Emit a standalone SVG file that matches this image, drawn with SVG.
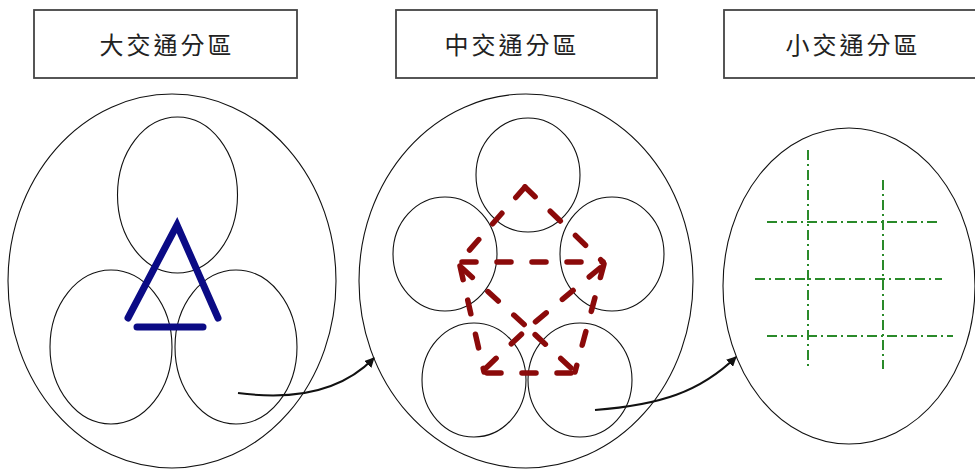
<svg xmlns="http://www.w3.org/2000/svg" width="975" height="469" viewBox="0 0 975 469">
<defs>
<style>
.box{fill:#fff;stroke:#444;stroke-width:1.8}
.lbl{font-family:"Noto Sans CJK TC","Noto Sans CJK SC",sans-serif;font-size:24px;letter-spacing:3px;fill:#222;text-anchor:middle}
.el{fill:none;stroke:#111;stroke-width:1.1}
.blue{fill:none;stroke:#0b0b85;stroke-width:7;stroke-linecap:round}
.red{fill:none;stroke:#8b0a0a;stroke-width:5.5;stroke-linecap:round;stroke-dasharray:14 21}
.green{fill:none;stroke:#2a8a2a;stroke-width:2;stroke-dasharray:10 4 2 4}
.conn{fill:none;stroke:#111;stroke-width:2}
</style>
<marker id="ah" viewBox="0 0 10 10" refX="9" refY="5" markerWidth="10" markerHeight="10" orient="auto" markerUnits="userSpaceOnUse">
<path d="M0,0 L10,5 L0,10 z" fill="#111"/>
</marker>
</defs>
<rect width="975" height="469" fill="#fff"/>

<g id="box-large">
<rect class="box" x="34" y="10" width="263" height="68"/>
<text class="lbl" x="167" y="54">大交通分區</text>
</g>
<g id="box-medium">
<rect class="box" x="396" y="10" width="261" height="68"/>
<text class="lbl" x="512" y="54">中交通分區</text>
</g>
<g id="box-small">
<rect class="box" x="724" y="10" width="260" height="68"/>
<text class="lbl" x="853" y="54">小交通分區</text>
</g>

<g id="region-large">
<ellipse class="el" cx="172" cy="281" rx="164" ry="187"/>
<ellipse class="el" cx="177.5" cy="195" rx="60" ry="78"/>
<ellipse class="el" cx="111" cy="347" rx="61" ry="77"/>
<ellipse class="el" cx="236" cy="347" rx="61" ry="77"/>
<path class="blue" d="M128,318 L177,225 L218,318"/>
<path class="blue" d="M137,327 L203,327"/>
</g>

<g id="region-medium">
<ellipse class="el" cx="526" cy="281" rx="167" ry="187"/>
<ellipse class="el" cx="528" cy="175" rx="52" ry="57"/>
<ellipse class="el" cx="445" cy="254" rx="52" ry="57"/>
<ellipse class="el" cx="612" cy="254" rx="52" ry="57"/>
<ellipse class="el" cx="474" cy="380" rx="52" ry="57"/>
<ellipse class="el" cx="580" cy="380" rx="52" ry="57"/>
<path class="red" d="M525,187 L459,262"/>
<path class="red" d="M525,187 L603,262"/>
<path class="red" d="M462,262 L603,262"/>
<path class="red" d="M460,266 L484,372"/>
<path class="red" d="M604,264 L575,372"/>
<path class="red" d="M487,373 L573,373"/>
<path class="red" d="M462,268 L528,328"/>
<path class="red" d="M600,268 L528,328"/>
<path class="red" d="M486,368 L528,328"/>
<path class="red" d="M571,368 L528,328"/>
</g>

<g id="region-small">
<ellipse class="el" cx="849" cy="286" rx="126" ry="158"/>
<path class="green" d="M808,150 L808,367"/>
<path class="green" d="M883,180 L883,369"/>
<path class="green" d="M767,222 L940,222"/>
<path class="green" d="M755,279 L942,279"/>
<path class="green" d="M767,336 L953,336"/>
</g>

<g id="connectors">
<path class="conn" d="M238,393 C290,400 340,393 374,358" marker-end="url(#ah)"/>
<path class="conn" d="M595,410 C660,405 700,392 736,357" marker-end="url(#ah)"/>
</g>
</svg>
